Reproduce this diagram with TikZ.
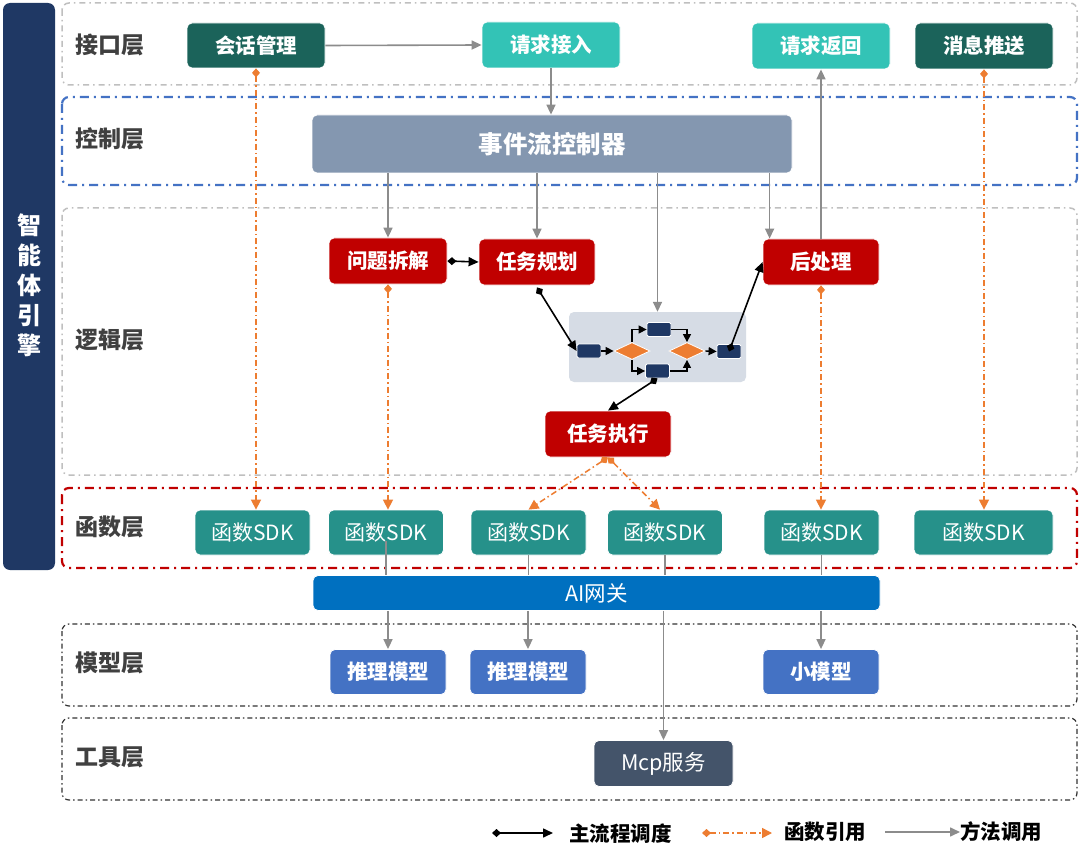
\documentclass[tikz,border=0pt]{standalone}
\usepackage{fontspec}
\setmainfont{Noto Sans CJK SC}
\usetikzlibrary{shapes.geometric,arrows.meta,calc}
\definecolor{navy}{HTML}{1F3864}
\definecolor{dteal}{HTML}{1B635A}
\definecolor{lteal}{HTML}{33C3B6}
\definecolor{ctrlc}{HTML}{8497B0}
\definecolor{redc}{HTML}{C00000}
\definecolor{sdkc}{HTML}{26918A}
\definecolor{gwc}{HTML}{0070C0}
\definecolor{modc}{HTML}{4472C4}
\definecolor{mcpc}{HTML}{44546A}
\definecolor{wfbg}{HTML}{D6DCE5}
\definecolor{orc}{HTML}{ED7D31}
\definecolor{grl}{HTML}{8C8C8C}
\definecolor{laytxt}{HTML}{404040}
\definecolor{laygray}{HTML}{BFBFBF}
\definecolor{layblue}{HTML}{4472C4}
\tikzset{
  bx/.style={rounded corners=5pt, text=white, draw=white, line width=0.8pt, inner sep=0pt,
             font=\bfseries\fontsize{20.5}{20.5}\selectfont},
  sdk/.style={bx, fill=sdkc, minimum width=115pt, minimum height=45pt, font=\fontsize{21}{21}\selectfont},
  laylabel/.style={text=laytxt, font=\bfseries\fontsize{23}{23}\selectfont, anchor=west, inner sep=0pt},
  laygrayb/.style={draw=laygray, line width=1.5pt, rounded corners=7pt, dash pattern=on 6pt off 4pt on 1.5pt off 4pt},
  laycol/.style={line width=2.2pt, rounded corners=7pt, dash pattern=on 9pt off 5pt on 2pt off 5pt},
  layblack/.style={draw=black!80, line width=1.2pt, rounded corners=7pt, dash pattern=on 5pt off 3pt on 1.5pt off 3pt},
  garrow/.style={draw=grl, line width=1.6pt, -{Triangle[length=10pt,width=9pt]}},
  gline/.style={draw=grl, line width=1.3pt},
  barrow/.style={draw=black, line width=1.6pt, {Diamond[length=9pt,width=8pt]}-{Triangle[length=10pt,width=9pt]}},
  oarrow/.style={draw=orc, line width=1.5pt, dash pattern=on 6pt off 3pt on 1.5pt off 3pt,
                 {Diamond[length=9pt,width=8pt]}-{Triangle[length=10pt,width=10pt]}},
  wfbox/.style={fill=navy, draw=white, line width=0.8pt, rounded corners=1.5pt, minimum width=24pt, minimum height=14pt, inner sep=0pt},
  wfdia/.style={diamond, fill=orc, draw=white, line width=0.8pt, minimum width=36pt, minimum height=17pt, inner sep=0pt},
  wfarrow/.style={draw=black, line width=1.4pt, -{Triangle[length=8pt,width=8pt]}},
  legtext/.style={anchor=west, inner sep=0pt, font=\bfseries\fontsize{20.5}{20.5}\selectfont},
}
\begin{document}
\begin{tikzpicture}[x=1pt,y=-1pt]
\useasboundingbox (0,0) rectangle (1080,856);
\fill[white] (0,0) rectangle (1080,856);

% left bar
\fill[navy, rounded corners=7pt] (3,3) rectangle (55,570);
\node[text=white, align=center, inner sep=0pt, font=\bfseries\fontsize{24}{30}\selectfont] (engine) at (29,285) {智\\能\\体\\引\\擎};

% layer frames
\draw[laygrayb] (62,3) rectangle (1077,85);
\draw[laycol, draw=layblue] (62,97) rectangle (1077,185);
\draw[laygrayb] (62,208) rectangle (1077,475);
\draw[laycol, draw=redc] (62,488) rectangle (1077,568);
\draw[layblack] (62,624) rectangle (1077,706);
\draw[layblack] (62,718) rectangle (1077,800);

% layer labels
\node[laylabel] (l1) at (75,45) {接口层};
\node[laylabel] (l2) at (75,139) {控制层};
\node[laylabel] (l3) at (75,340) {逻辑层};
\node[laylabel] (l4) at (75,527) {函数层};
\node[laylabel] (l5) at (75,663) {模型层};
\node[laylabel] (l6) at (75,757) {工具层};

% interface layer
\node[bx, fill=dteal, minimum width=138pt, minimum height=45pt] (sess) at (256,45.5) {会话管理};
\node[bx, fill=lteal, minimum width=138pt, minimum height=46pt] (req) at (551,45) {请求接入};
\node[bx, fill=lteal, minimum width=138pt, minimum height=46pt] (ret) at (821,46) {请求返回};
\node[bx, fill=dteal, minimum width=138pt, minimum height=46pt] (push) at (984,46) {消息推送};

% control layer
\node[bx, fill=ctrlc, minimum width=480pt, minimum height=58pt, font=\bfseries\fontsize{24.5}{24.5}\selectfont] (ctrl) at (552,144) {事件流控制器};

% logic layer
\node[bx, fill=redc, minimum width=118pt, minimum height=46pt] (dec) at (388,261) {问题拆解};
\node[bx, fill=redc, minimum width=116pt, minimum height=46pt] (plan) at (537,262) {任务规划};
\node[bx, fill=redc, minimum width=116pt, minimum height=46pt] (post) at (821,262) {后处理};
\node[fill=wfbg, rounded corners=5pt, minimum width=177pt, minimum height=70pt, inner sep=0pt] (wf) at (657.5,347) {};
\node[bx, fill=redc, minimum width=126pt, minimum height=46pt] (exe) at (608,434) {任务执行};

% workflow internals
\node[wfbox] (wa) at (589,351) {};
\node[wfdia] (d1) at (632,351) {};
\node[wfbox] (wb) at (659,329.5) {};
\node[wfbox] (wc) at (657.5,371) {};
\node[wfdia] (d2) at (687,351) {};
\node[wfbox] (wd) at (729,351.5) {};
\draw[wfarrow] (wa.east) -- (d1.west);
\draw[wfarrow] (d1.north) |- (wb.west);
\draw[wfarrow] (d1.south) |- (wc.west);
\draw[wfarrow] (wb.east) -| (d2.north);
\draw[wfarrow] (wc.east) -| (d2.south);
\draw[wfarrow] (d2.east) -- (wd.west);

% function layer
\node[sdk] (s1) at (252.5,532.5) {函数SDK};
\node[sdk] (s2) at (386,532.5) {函数SDK};
\node[sdk] (s3) at (528.5,532.5) {函数SDK};
\node[sdk] (s4) at (665,532.5) {函数SDK};
\node[sdk] (s5) at (821.5,532.5) {函数SDK};
\node[sdk, minimum width=139pt] (s6) at (983.5,532.5) {函数SDK};

% gateway
\node[bx, fill=gwc, minimum width=567pt, minimum height=35pt, font=\fontsize{21.5}{21.5}\selectfont] (gw) at (596.5,593) {AI网关};

% model layer
\node[bx, fill=modc, minimum width=116pt, minimum height=45pt] (m1) at (388,672) {推理模型};
\node[bx, fill=modc, minimum width=116pt, minimum height=45pt] (m2) at (528,672) {推理模型};
\node[bx, fill=modc, minimum width=116pt, minimum height=45pt] (m3) at (821,672) {小模型};

% tool layer
\node[bx, fill=mcpc, minimum width=139pt, minimum height=46pt, font=\fontsize{21.5}{21.5}\selectfont] (mcp) at (663.5,763.5) {Mcp服务};

% gray method-call connectors
\draw[garrow] (sess.east) -- (req.west);
\draw[garrow] (req.south) -- (ctrl.north -| req.south);
\draw[garrow] (ctrl.south -| dec.north) -- (dec.north);
\draw[garrow] (ctrl.south -| plan.north) -- (plan.north);
\draw[garrow] (ctrl.south -| wf.north) -- (wf.north);
\coordinate (postin) at ($(post.north west)+(7,0)$);
\draw[garrow] (ctrl.south -| postin) -- (postin);
\draw[garrow] (post.north) -- (ret.south);

\draw[gline] (s2.center) ++(0,8) -- (gw.north -| s2.south);
\draw[gline] (s3.south) -- (gw.north -| s3.south);
\draw[gline] (s4.south) -- (gw.north -| s4.south);
\draw[gline] (s5.south) -- (gw.north -| s5.south);
\draw[garrow] (gw.south -| m1.north) -- (m1.north);
\draw[garrow] (gw.south -| m2.north) -- (m2.north);
\draw[garrow] (gw.south -| mcp.north) -- (mcp.north);
\draw[garrow] (gw.south -| m3.north) -- (m3.north);

% black main-flow connectors
\draw[barrow] (dec.east) -- (plan.west);
\draw[barrow] ($(plan.south)+(0,2)$) -- (wa.west);
\draw[barrow] (wd.center) -- (post.west);
\draw[barrow] (wc.south) -- (exe.north);

% orange function references
\draw[oarrow] (sess.south) -- (s1.north -| sess.south);
\draw[oarrow] (dec.south) -- (s2.north -| dec.south);
\draw[oarrow] (exe.south) -- (s3.north);
\draw[oarrow] (exe.south) -- ($(s4.north)+(-5,0)$);
\draw[oarrow] (post.south) -- (s5.north -| post.south);
\draw[oarrow] (push.south) -- (s6.north -| push.south);

% legend
\coordinate (lg1a) at (492,833);
\coordinate (lg1b) at (553,833);
\draw[barrow] (lg1a) -- (lg1b);
\node[legtext] (lt1) at (569,834) {主流程调度};
\coordinate (lg2a) at (702,833);
\coordinate (lg2b) at (772,833);
\draw[oarrow] (lg2a) -- (lg2b);
\node[legtext] (lt2) at (784,832) {函数引用};
\coordinate (lg3a) at (885,832);
\coordinate (lg3b) at (960,832);
\draw[garrow] (lg3a) -- (lg3b);
\node[legtext] (lt3) at (960,832) {方法调用};
\end{tikzpicture}
\end{document}
